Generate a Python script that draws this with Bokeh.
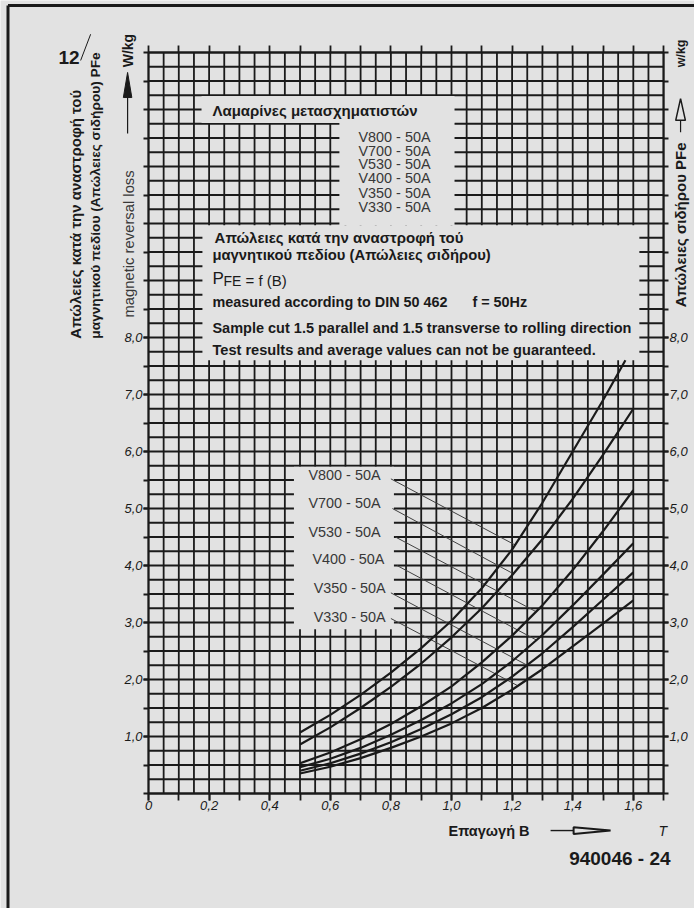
import numpy as np
from bokeh.plotting import figure
from bokeh.models import (Range1d, LinearAxis, FixedTicker, Label, Arrow,
                          PolyAnnotation)
from bokeh.embed import file_html
from bokeh.resources import INLINE

PAPER = "#e2e2e2"
INK = "#1a1a1a"
SOFT = "#383838"
FONT = "Liberation Sans"

# ---------------- data ----------------
B_VALUES = [0.5, 0.6, 0.7, 0.8, 0.9, 1.0, 1.1, 1.2, 1.3, 1.4, 1.5, 1.6]
B_V800 = [0.5, 0.6, 0.7, 0.8, 0.9, 1.0, 1.1, 1.2, 1.3, 1.4, 1.5, 1.574]
P_V800 = [1.07, 1.38, 1.73, 2.12, 2.55, 3.03, 3.60, 4.28, 5.10, 6.00, 6.90, 7.60]
P_V700 = [0.86, 1.16, 1.50, 1.87, 2.28, 2.74, 3.25, 3.83, 4.46, 5.17, 5.94, 6.75]
P_V530 = [0.53, 0.72, 0.95, 1.22, 1.53, 1.88, 2.30, 2.77, 3.30, 3.92, 4.60, 5.32]
P_V400 = [0.46, 0.61, 0.80, 1.03, 1.29, 1.58, 1.92, 2.32, 2.78, 3.30, 3.84, 4.39]
P_V350 = [0.40, 0.53, 0.70, 0.90, 1.13, 1.39, 1.69, 2.05, 2.46, 2.92, 3.40, 3.88]
P_V330 = [0.35, 0.47, 0.62, 0.80, 1.00, 1.23, 1.50, 1.82, 2.18, 2.58, 2.98, 3.39]

GRADES = ["V800 - 50A", "V700 - 50A", "V530 - 50A", "V400 - 50A", "V350 - 50A", "V330 - 50A"]

# curve label positions and leader lines (label end -> point on curve)
LABEL_X = [0.528, 0.528, 0.528, 0.541, 0.545, 0.545]
LABEL_Y = [5.58, 5.09, 4.58, 4.12, 3.60, 3.09]
LEADER_X0 = [0.800, 0.805, 0.815, 0.820, 0.800, 0.800]
LEADER_Y0 = [5.52, 5.00, 4.50, 4.00, 3.52, 3.07]
LEADER_X1 = [1.210, 1.206, 1.279, 1.281, 1.250, 1.219]
LEADER_Y1 = [4.36, 3.85, 3.19, 2.69, 2.25, 1.89]

X_TICKS = [0.0, 0.2, 0.4, 0.6, 0.8, 1.0, 1.2, 1.4, 1.6]
X_TICK_LABELS = ["0", "0,2", "0,4", "0,6", "0,8", "1,0", "1,2", "1,4", "1,6"]
Y_TICKS = [1, 2, 3, 4, 5, 6, 7, 8]
Y_TICK_LABELS = ["1,0", "2,0", "3,0", "4,0", "5,0", "6,0", "7,0", "8,0"]

X_MAX, Y_MAX = 1.7, 13.0
X_STEP, Y_STEP = 0.05, 0.25

# --------------- canvas geometry ----------------
W, H = 694, 908
PX_X = 303.0          # pixels per tesla
PX_Y = 57.0           # pixels per W/kg
LEFT_PX, TOP_PX = 148, 52
XS = -LEFT_PX / PX_X
XE = XS + W / PX_X
YE = Y_MAX + TOP_PX / PX_Y
YS = YE - H / PX_Y

p = figure(frame_width=W, frame_height=H,
           x_range=Range1d(XS, XE), y_range=Range1d(YS, YE),
           min_border=0, x_axis_location=None, y_axis_location=None,
           background_fill_color=PAPER, border_fill_color=PAPER,
           outline_line_color=None,
           output_backend="svg", toolbar_location=None)
p.grid.visible = False

LW = 1.8

def style_axis(ax, out):
    ax.axis_line_color = INK
    ax.axis_line_width = LW
    ax.major_tick_line_color = INK
    ax.minor_tick_line_color = INK
    ax.major_tick_line_width = LW
    ax.minor_tick_line_width = LW
    ax.major_tick_in = 0
    ax.minor_tick_in = 0
    ax.major_tick_out = out
    ax.minor_tick_out = out
    ax.major_label_text_font = FONT
    ax.major_label_text_font_style = "italic"
    ax.major_label_text_color = INK
    ax.major_label_text_font_size = "13px"

minor_x = [round(0.1 * k, 1) for k in range(18)]
minor_y = [round(0.5 * k, 1) for k in range(27)]

xa = LinearAxis(fixed_location=0, bounds=(0, X_MAX),
                ticker=FixedTicker(ticks=X_TICKS, minor_ticks=minor_x))
xa.major_label_overrides = dict(zip(X_TICKS, X_TICK_LABELS))
style_axis(xa, 7)
xa.major_label_standoff = 0
p.add_layout(xa, "below")

ya = LinearAxis(fixed_location=0, bounds=(0, Y_MAX),
                ticker=FixedTicker(ticks=Y_TICKS, minor_ticks=minor_y))
ya.major_label_overrides = {float(t): s for t, s in zip(Y_TICKS, Y_TICK_LABELS)}
style_axis(ya, 5)
ya.major_label_standoff = 1
p.add_layout(ya, "left")

top = LinearAxis(fixed_location=Y_MAX, bounds=(0, X_MAX),
                 ticker=FixedTicker(ticks=minor_x))
style_axis(top, 7)
top.major_label_overrides = {t: "" for t in minor_x}
p.add_layout(top, "above")

right = LinearAxis(fixed_location=X_MAX, bounds=(0, Y_MAX),
                   ticker=FixedTicker(ticks=Y_TICKS, minor_ticks=minor_y))
style_axis(right, 5)
right.major_label_overrides = {float(t): s for t, s in zip(Y_TICKS, Y_TICK_LABELS)}
right.major_label_standoff = 1
p.add_layout(right, "right")

# page border (scan edge): left at x=7 px, top at y=5 px
bx = XS + 7.5 / PX_X
by = YE - 5.0 / PX_Y
p.segment(x0=[bx, bx], y0=[YS, by], x1=[bx, XE], y1=[by, by],
          line_color=INK, line_width=3)

# grid lines
gx = np.round(np.arange(0, X_MAX + 1e-9, X_STEP), 3)
gy = np.round(np.arange(0, Y_MAX + 1e-9, Y_STEP), 3)
p.segment(x0=gx, y0=0, x1=gx, y1=Y_MAX, line_color=INK, line_width=LW)
p.segment(x0=0, y0=gy, x1=X_MAX, y1=gy, line_color=INK, line_width=LW)

# blank paper areas that carry the texts
BOX_LEFT = [0.175, 0.63, 0.178, 0.48]
BOX_RIGHT = [1.01, 1.01, 1.62, 0.81]
BOX_BOTTOM = [11.762, 9.968, 7.60, 2.88]
BOX_TOP = [12.238, 11.77, 9.97, 5.733]
p.quad(left=BOX_LEFT, right=BOX_RIGHT, bottom=BOX_BOTTOM, top=BOX_TOP,
       fill_color=PAPER, line_color=None)

# leader lines
p.segment(x0=LEADER_X0, y0=LEADER_Y0, x1=LEADER_X1, y1=LEADER_Y1,
          line_color="#404040", line_width=1.0)

# curves
p.line(B_V800, P_V800, line_color=INK, line_width=2.2)
for vals in [P_V700, P_V530, P_V400, P_V350, P_V330]:
    p.line(B_VALUES, vals, line_color=INK, line_width=2.2)

# --------------- texts ----------------
def lab(x, y, text, size=13, style="normal", color=INK, align="left",
        baseline="middle", angle=0.0):
    p.add_layout(Label(x=x, y=y, text=text, text_font=FONT,
                       text_font_size=f"{size}px", text_font_style=style,
                       text_color=color, text_align=align,
                       text_baseline=baseline, angle=angle))

up = np.pi / 2

def poly(xs, ys, fill, lw):
    p.add_layout(PolyAnnotation(xs=xs, ys=ys, fill_color=fill, fill_alpha=1.0,
                                line_color=INK, line_alpha=1.0, line_width=lw))

# top-left corner
lab(-0.297, 12.91, "12", size=19, style="bold")
p.add_layout(Arrow(x_start=-0.224, y_start=12.86, x_end=-0.191, y_end=13.32,
                   end=None, line_color=INK, line_width=1.0))
lab(-0.241, 7.98, "Απώλειες κατά την αναστροφή τού", size=15, style="bold", angle=up)
lab(-0.175, 7.98, "μαγνητικού πεδίου (Απώλειες σιδήρου) PFe", size=13.7, style="bold", angle=up)
lab(-0.066, 8.35, "magnetic reversal loss", size=14.8, color=SOFT, angle=up)

# left unit arrow
p.add_layout(Arrow(x_start=-0.069, y_start=11.58, x_end=-0.069, y_end=12.22,
                   end=None, line_color=INK, line_width=1.2))
poly([-0.083, -0.069, -0.055], [12.21, 12.65, 12.21], INK, 1)
lab(-0.069, 12.74, "W/kg", size=14, style="bold", angle=up)

# right side label
lab(1.756, 8.53, "Απώλειες σιδήρου PFe", size=15, style="bold", angle=up)
p.add_layout(Arrow(x_start=1.756, y_start=11.60, x_end=1.756, y_end=11.81,
                   end=None, line_color=INK, line_width=1.2))
poly([1.740, 1.756, 1.772], [11.81, 12.19, 11.81], PAPER, 1.5)
lab(1.756, 12.74, "w/kg", size=12.5, style="bold", angle=up)

# top legend box
lab(0.211, 11.98, "Λαμαρίνες μετασχηματιστών", size=15, style="bold")
LEGEND_Y = [11.51, 11.28, 11.04, 10.79, 10.54, 10.29]
for g, yy in zip(GRADES, LEGEND_Y):
    lab(0.693, yy, g, size=14.4, color=SOFT)

# middle text box
lab(0.218, 9.75, "Απώλειες κατά την αναστροφή τού", size=15, style="bold")
lab(0.211, 9.44, "μαγνητικού πεδίου (Απώλειες σιδήρου)", size=14.8, style="bold")
lab(0.211, 9.03, "P", size=17, baseline="alphabetic")
lab(0.2475, 9.00, "FE", size=14, baseline="alphabetic")
lab(0.320, 9.00, "= f (B)", size=15, baseline="alphabetic")
lab(0.211, 8.63, "measured according to DIN 50 462", size=14.4, style="bold")
lab(1.069, 8.63, "f = 50Hz", size=14.4, style="bold")
lab(0.211, 8.17, "Sample cut 1.5 parallel and 1.5 transverse to rolling direction", size=14.5, style="bold")
lab(0.211, 7.78, "Test results and average values can not be guaranteed.", size=14.6, style="bold")

# curve labels
for g, xx, yy in zip(GRADES, LABEL_X, LABEL_Y):
    lab(xx, yy, g, size=14.4, color=SOFT)

# x axis caption
lab(0.99, -0.65, "Επαγωγή B", size=14.5, style="bold")
p.add_layout(Arrow(x_start=1.327, y_start=-0.65, x_end=1.405, y_end=-0.65,
                   end=None, line_color=INK, line_width=1.4))
poly([1.403, 1.525, 1.403], [-0.59, -0.65, -0.71], PAPER, 2)
lab(1.683, -0.65, "T", size=14, style="italic")
lab(1.723, -1.14, "940046 - 24", size=19, style="bold", align="right")

open("out.html", "w").write(file_html(p, INLINE))
